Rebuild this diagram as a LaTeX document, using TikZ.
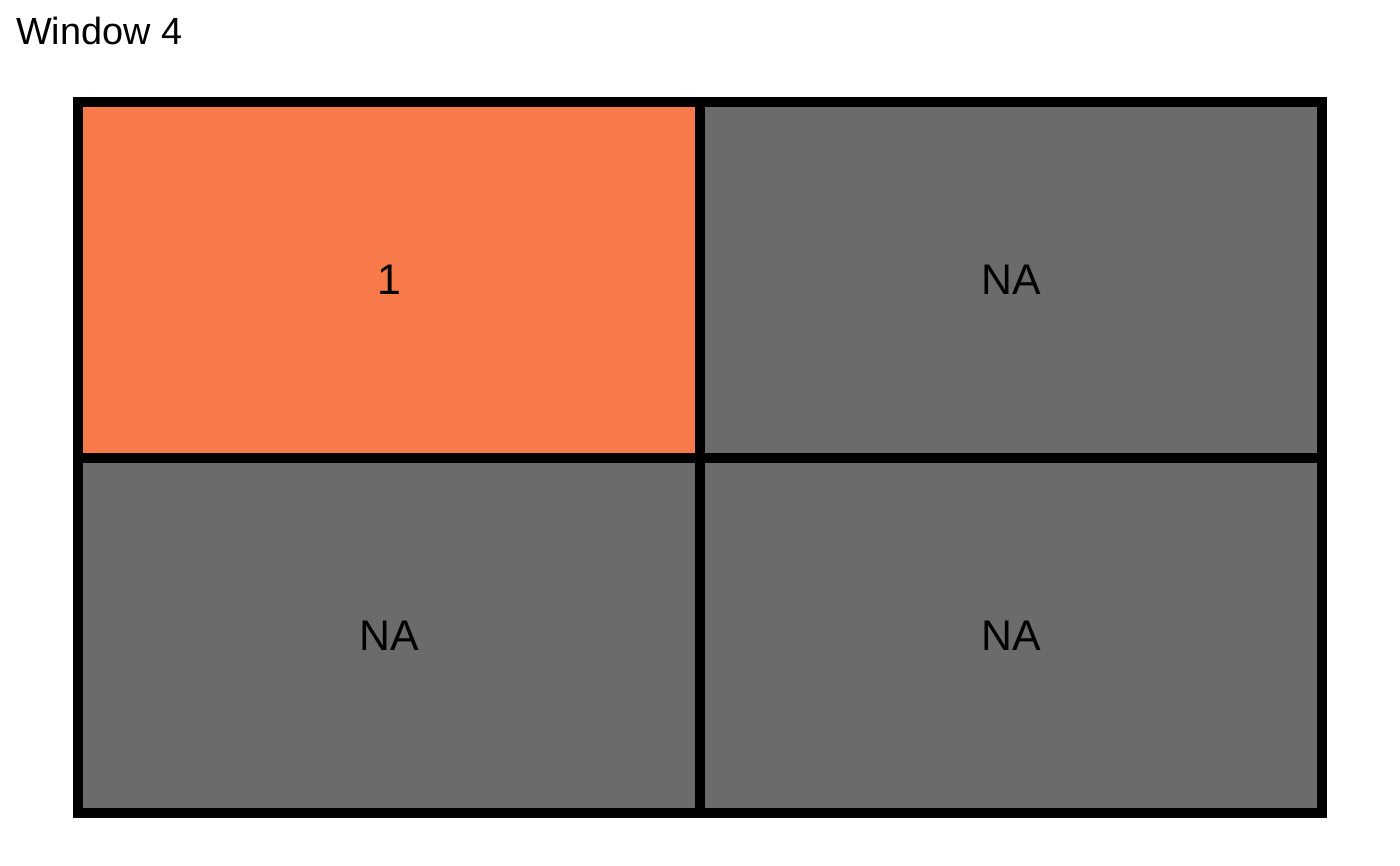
\documentclass[tikz,border=0pt]{standalone}
\usepackage{fontspec}
\setmainfont{Liberation Sans}
\definecolor{cellorange}{HTML}{F87A4A}
\definecolor{cellgray}{HTML}{6B6B6B}
\begin{document}
\begin{tikzpicture}[x=1bp,y=-1bp,
  cell/.style={draw=black,line width=10.5bp,inner sep=0pt,outer sep=0pt,
    minimum width=622bp,minimum height=356bp,
    font=\fontsize{43}{50}\selectfont,text=black}]
\useasboundingbox[fill=white] (0,0) rectangle (1400,865);
\node[anchor=base west,inner sep=0pt,font=\fontsize{38}{44}\selectfont] (title) at (16,44) {Window 4};
\node[cell,fill=cellorange] (c11) at (389,280) {1};
\node[cell,fill=cellgray] (c12) at (1011,280) {NA};
\node[cell,fill=cellgray,minimum height=355bp] (c21) at (389,635.5) {NA};
\node[cell,fill=cellgray,minimum height=355bp] (c22) at (1011,635.5) {NA};
\end{tikzpicture}
\end{document}
